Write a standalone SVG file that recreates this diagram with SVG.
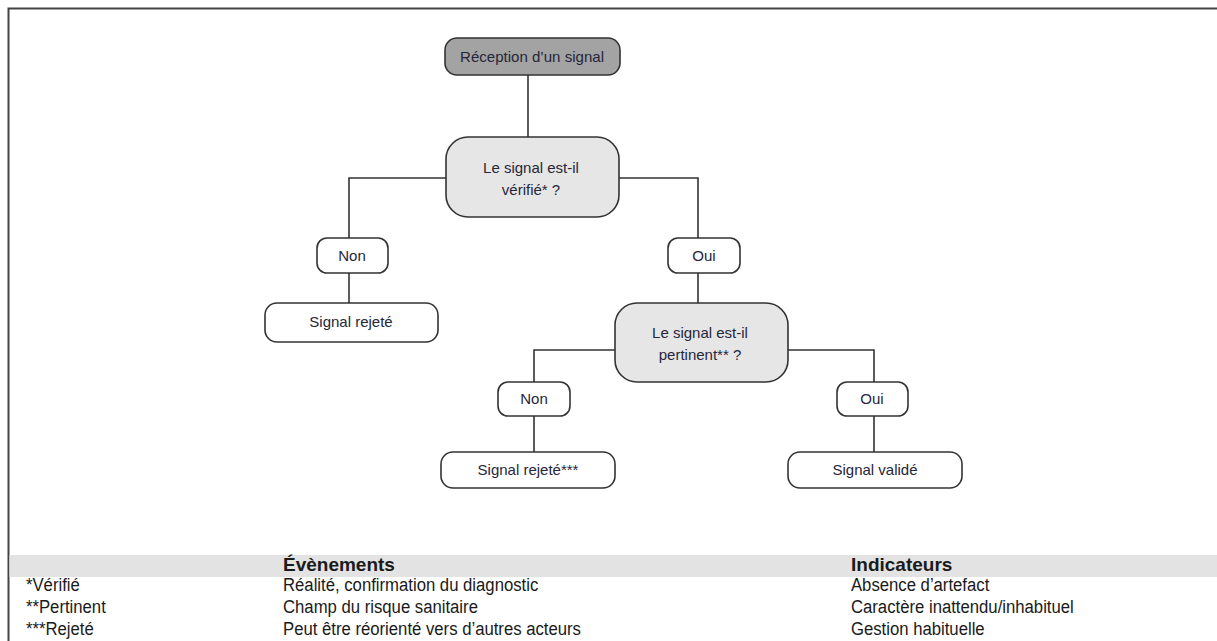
<svg xmlns="http://www.w3.org/2000/svg" width="1217" height="641" viewBox="0 0 1217 641">
  <style>
    .box { stroke: #333; stroke-width: 1.6; }
    .start { fill: #a3a3a3; }
    .question { fill: #e6e6e6; }
    .answer { fill: #ffffff; }
    .lbl { font-family: "Liberation Sans", Arial, sans-serif; font-size: 15px; fill: #26263a; text-anchor: middle; }
    .conn { fill: none; stroke: #333; stroke-width: 1.6; }
    .tbl { font-family: "Liberation Sans", Arial, sans-serif; font-size: 19px; fill: #1a1a1a; }
    .hdr { font-family: "Liberation Sans", Arial, sans-serif; font-size: 19px; font-weight: bold; fill: #1a1a1a; }
  </style>

  <rect x="0" y="0" width="1217" height="641" fill="#ffffff"/>

  <!-- outer frame: top and left rules -->
  <path d="M8.5 641 V8.5 H1217" fill="none" stroke="#444" stroke-width="2"/>

  <!-- connectors -->
  <g id="connectors">
    <path class="conn" d="M528 75 V137"/>
    <path class="conn" d="M446 178 H349 V238"/>
    <path class="conn" d="M619 178 H698 V238"/>
    <path class="conn" d="M349 273 V303"/>
    <path class="conn" d="M698 273 V303"/>
    <path class="conn" d="M615 350 H534 V382"/>
    <path class="conn" d="M788 350 H874 V382"/>
    <path class="conn" d="M534 416 V452"/>
    <path class="conn" d="M874 416 V452"/>
  </g>

  <g id="reception">
    <rect class="box start" x="445" y="38" width="175" height="37" rx="12"/>
    <text class="lbl" x="532" y="62" textLength="144" lengthAdjust="spacingAndGlyphs">Réception d’un signal</text>
  </g>

  <g id="q-verifie">
    <rect class="box question" x="446" y="137" width="173" height="80" rx="22"/>
    <text class="lbl" x="531" y="173">Le signal est-il</text>
    <text class="lbl" x="531" y="195">vérifié* ?</text>
  </g>

  <g id="non-1">
    <rect class="box answer" x="317" y="238" width="71" height="35" rx="10"/>
    <text class="lbl" x="352" y="261">Non</text>
  </g>

  <g id="rejete-1">
    <rect class="box answer" x="265" y="303" width="173" height="39" rx="12"/>
    <text class="lbl" x="351" y="327">Signal rejeté</text>
  </g>

  <g id="oui-1">
    <rect class="box answer" x="668" y="238" width="72" height="35" rx="10"/>
    <text class="lbl" x="704" y="261">Oui</text>
  </g>

  <g id="q-pertinent">
    <rect class="box question" x="615" y="303" width="173" height="79" rx="22"/>
    <text class="lbl" x="700" y="338">Le signal est-il</text>
    <text class="lbl" x="700" y="360">pertinent** ?</text>
  </g>

  <g id="non-2">
    <rect class="box answer" x="498" y="382" width="72" height="34" rx="10"/>
    <text class="lbl" x="534" y="404">Non</text>
  </g>

  <g id="oui-2">
    <rect class="box answer" x="837" y="382" width="71" height="34" rx="10"/>
    <text class="lbl" x="872" y="404">Oui</text>
  </g>

  <g id="rejete-2">
    <rect class="box answer" x="441" y="452" width="174" height="36" rx="12"/>
    <text class="lbl" x="528" y="475">Signal rejeté***</text>
  </g>

  <g id="valide">
    <rect class="box answer" x="788" y="452" width="174" height="36" rx="12"/>
    <text class="lbl" x="875" y="475">Signal validé</text>
  </g>

  <!-- legend table -->
  <g id="legend">
    <rect x="9.5" y="555" width="1207.5" height="22" fill="#e3e3e3"/>
    <text class="hdr" x="283" y="571">Évènements</text>
    <text class="hdr" x="851" y="571">Indicateurs</text>

    <!-- body rows set in a slightly narrowed face -->
    <g transform="scale(0.88 1)">
      <text class="tbl" x="29.5" y="591">*Vérifié</text>
      <text class="tbl" x="321.6" y="591">Réalité, confirmation du diagnostic</text>
      <text class="tbl" x="967" y="591">Absence d’artefact</text>

      <text class="tbl" x="29.5" y="613">**Pertinent</text>
      <text class="tbl" x="321.6" y="613">Champ du risque sanitaire</text>
      <text class="tbl" x="967" y="613">Caractère inattendu/inhabituel</text>

      <text class="tbl" x="29.5" y="635">***Rejeté</text>
      <text class="tbl" x="321.6" y="635">Peut être réorienté vers d’autres acteurs</text>
      <text class="tbl" x="967" y="635">Gestion habituelle</text>
    </g>
  </g>
</svg>
